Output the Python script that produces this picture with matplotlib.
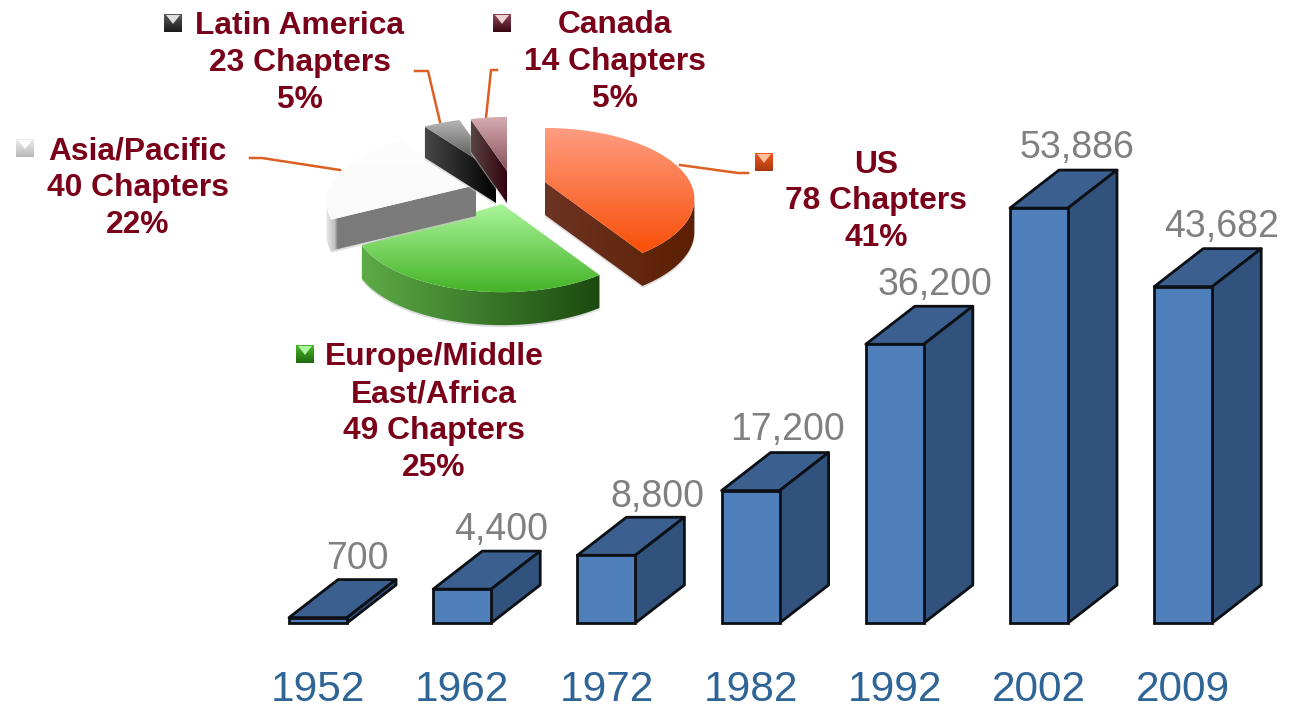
import numpy as np
import matplotlib
matplotlib.use("Agg")
import matplotlib.pyplot as plt
from matplotlib.patches import Polygon, PathPatch
from matplotlib.path import Path
from matplotlib.colors import LinearSegmentedColormap as LSC

plt.rcParams['font.family'] = ['Liberation Sans', 'DejaVu Sans']

# ---- data ----
years = ['1952', '1962', '1972', '1982', '1992', '2002', '2009']
members = [700, 4400, 8800, 17200, 36200, 53886, 43682]
regions = ['US', 'Europe/Middle\nEast/Africa', 'Asia/Pacific', 'Latin America', 'Canada']
chapters = [78, 49, 40, 23, 14]
shares = [41, 25, 22, 5, 5]

W, H = 1291, 707
fig = plt.figure(figsize=(W / 100, H / 100), dpi=100, facecolor='white')

# ---- bars ----
BASE = 623
PX_PER_UNIT = 0.0077
STEP = 144.2
X0 = 318
ax = fig.add_axes([0, (H - BASE) / H, 1, BASE / H])
ax.set_xlim(-X0 / STEP, (W - X0) / STEP)
ax.set_ylim(0, BASE / PX_PER_UNIT)
ax.patch.set_alpha(0)
for s in ax.spines.values():
    s.set_visible(False)
ax.yaxis.set_visible(False)
bw = 58 / STEP
ddx, ddy = 49 / STEP, 38 / PX_PER_UNIT
EC = '#0c0f14'
LW = 2.0
xs = np.arange(len(years))
label_dx = [39, 39, 51, 37, 40, 38, 38]
label_dy = [59, 59, 58, 61, 59, 60, 60]
ax.bar(xs, members, width=bw, color='#4f80bc', edgecolor=EC, linewidth=LW, clip_on=False, zorder=3)
for x, v, ldx, ldy in zip(xs, members, label_dx, label_dy):
    l, r = x - bw / 2, x + bw / 2
    ax.add_patch(Polygon([(l, v), (r, v), (r + ddx, v + ddy), (l + ddx, v + ddy)], closed=True,
                         fc='#3b6090', ec=EC, lw=LW, joinstyle='round', clip_on=False, zorder=2))
    ax.add_patch(Polygon([(r, 0), (r, v), (r + ddx, v + ddy), (r + ddx, ddy)], closed=True,
                         fc='#30527c', ec=EC, lw=LW, joinstyle='round', clip_on=False, zorder=2))
    ax.annotate(f'{v:,}', (x, v), xytext=(ldx * .72, ldy * .72), textcoords='offset points',
                ha='center', va='center', fontsize=27, color='#808080', zorder=4)
ax.set_xticks(xs, years)
ax.tick_params(axis='x', length=0, pad=33.5, labelsize=30.5, labelcolor='#2f6496')

# ---- pie (pixel overlay) ----
px = fig.add_axes([0, 0, 1, 1])
px.set_xlim(0, W)
px.set_ylim(H, 0)
px.axis('off')
px.patch.set_alpha(0)

R, Q, K = 145, 67, 0.24
apexes = [(545, 182), (502, 204), (476, 185), (496, 172), (507, 171)]
depths = [33, 33, 31, 31, 32]
tops = [('#ff9c80', '#f8530e'), ('#abf59b', '#48b52a'), ('#fdfdfd', '#fafafa'),
        ('#b0b0b0', '#3c3c3c'), ('#d2a8ac', '#4a0614')]
tops_span = [(128, 246), (205, 290), (138, 217), (123, 172), (120, 215)]
sides = [[(0, '#6e3423'), (1, '#5c1f02')], [(0, '#5dab47'), (1, '#1b4a0f')],
         [(0, '#e4e4e4'), (0.05, '#c0c0c0'), (0.07, '#7a7a7a'), (1, '#7c7c7c')],
         [(0, '#484848'), (1, '#000000')], [(0, '#5a4444'), (1, '#30000c')]]
gap_after = [0, 1.4, 0.6, 0, 0]  # the percentages add up to 98


def project(theta, ax0, ay0):
    c, s = np.cos(theta), np.sin(theta)
    d = 1 + K * s
    return ax0 + R * c / d, ay0 - Q * s / d


start = 90.0
angles = []
for sh, g in zip(shares, gap_after):
    end = start - 3.6 * sh
    angles.append((start, end))
    start = end - 3.6 * g

for i in [2, 3, 4, 0, 1]:
    a, b = np.radians(angles[i])
    ax0, ay0 = apexes[i]
    th = np.linspace(a, b, 120)
    xa, ya = project(th, ax0, ay0)
    ox = np.concatenate([[ax0], xa, [ax0]])
    oy = np.concatenate([[ay0], ya, [ay0]])
    d = depths[i]
    base_z = 5 + i * 0.1

    # side walls: segments of the outline that face the viewer
    verts, codes = [], []
    for j in range(len(ox) - 1):
        if ox[j + 1] < ox[j] - 1e-6:
            verts += [(ox[j], oy[j]), (ox[j + 1], oy[j + 1]), (ox[j + 1], oy[j + 1] + d),
                      (ox[j], oy[j] + d), (ox[j], oy[j])]
            codes += [Path.MOVETO, Path.LINETO, Path.LINETO, Path.LINETO, Path.CLOSEPOLY]
    wall = Path(verts, codes)
    shadow = PathPatch(Path(np.array(verts) + [0, 2], codes), fc='#c8c8c8', ec='none', alpha=0.6, zorder=base_z)
    px.add_patch(shadow)
    wpatch = PathPatch(wall, fc='none', ec='none', zorder=base_z + 0.01)
    px.add_patch(wpatch)
    wx = np.array(verts)[:, 0]
    wy = np.array(verts)[:, 1]
    im_s = px.imshow(np.linspace(0, 1, 256).reshape(1, -1), cmap=LSC.from_list('s', sides[i]), vmin=0, vmax=1,
                     aspect='auto', extent=(wx.min(), wx.max(), wy.max() + 1, wy.min() - 1),
                     zorder=base_z + 0.02, interpolation='bilinear')
    im_s.set_clip_path(wpatch)

    # gradient top
    poly = Polygon(np.column_stack([ox, oy]), closed=True, fc='none', ec='none', zorder=base_z + 0.03)
    px.add_patch(poly)
    y0, y1 = tops_span[i]
    yy = np.linspace(oy.min() - 1, oy.max() + 1, 128)
    im = px.imshow(np.clip((yy - y0) / (y1 - y0), 0, 1).reshape(-1, 1), cmap=LSC.from_list('t', tops[i]),
                   vmin=0, vmax=1, aspect='auto', origin='upper',
                   extent=(ox.min(), ox.max(), oy.max() + 1, oy.min() - 1),
                   zorder=base_z + 0.04, interpolation='bilinear')
    im.set_clip_path(poly)
px.set_xlim(0, W)
px.set_ylim(H, 0)

# ---- leader lines ----
LC = '#dd5f22'
leaders = [([680, 738, 748], [165, 173, 173]), ([250, 262, 340], [158, 158, 170]),
           ([415, 428, 440], [71, 71, 122]), ([497, 491, 486], [70, 70, 118])]
for lx, ly in leaders:
    px.plot(lx, ly, color=LC, lw=1.8, zorder=4, solid_joinstyle='round')

# ---- labels ----
TC = '#7a0019'
centers = [(876, 201.5), (434, 412.5), (137.5, 188), (299.5, 63), (615, 62)]
marks = [(755, 153), (296, 345), (16, 139), (164, 14), (493, 14)]
mcols = [('#ffc0a0', '#f0551c', '#a83a10'), ('#b0f5a0', '#48b52a', '#1f6a10'),
         ('#ffffff', '#eeeeee', '#b8b8b8'), ('#e0e0e0', '#5a5a5a', '#1a1a1a'),
         ('#ecd0d4', '#8a4a55', '#3a0612')]
for name, ch, sh, (cx, cy), (mx, my), mc in zip(regions, chapters, shares, centers, marks, mcols):
    px.text(cx, cy, f'{name}\n{ch} Chapters\n{sh}%', ha='center', va='center', ma='center',
            fontsize=22.9, fontweight='bold', color=TC, linespacing=1.295, zorder=8)
    s = 18
    cm = LSC.from_list('m', [mc[1], mc[2]])
    mbox = Polygon([(mx, my), (mx + s, my), (mx + s, my + s), (mx, my + s)], fc='none', ec='none', zorder=8)
    px.add_patch(mbox)
    mi = px.imshow(np.linspace(0, 1, 32).reshape(-1, 1), cmap=cm, vmin=0, vmax=1, aspect='auto',
                   extent=(mx, mx + s, my + s, my), zorder=8, interpolation='bilinear')
    mi.set_clip_path(mbox)
    px.add_patch(Polygon([(mx + 2, my + 1), (mx + s - 2, my + 1), (mx + s / 2, my + s * 0.55)],
                         fc=mc[0], ec='none', zorder=8.1))
px.set_xlim(0, W)
px.set_ylim(H, 0)

fig.savefig('out.png', dpi=100, facecolor='white')
